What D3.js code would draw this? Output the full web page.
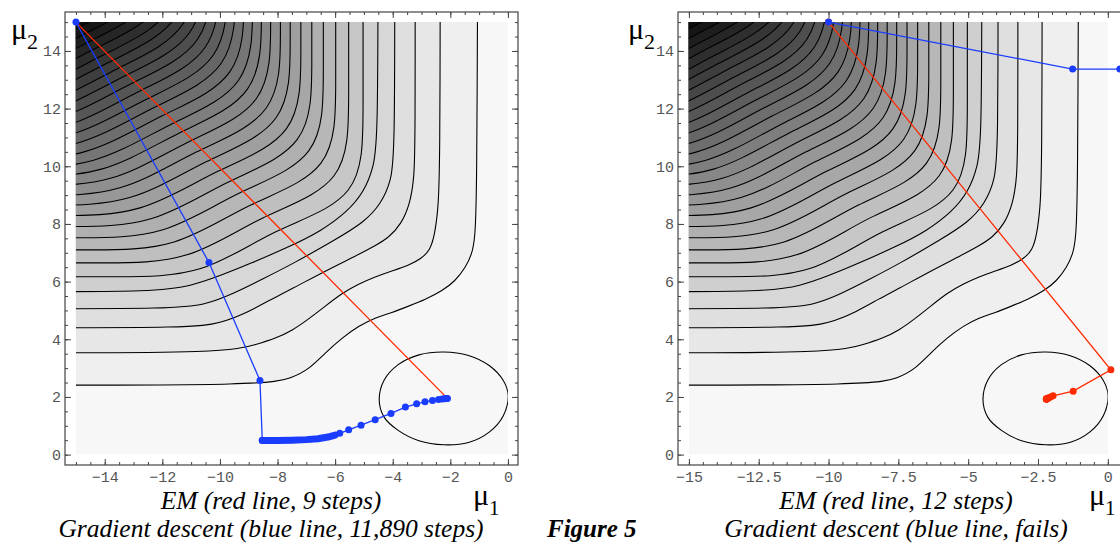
<!DOCTYPE html>
<html>
<head>
<meta charset="utf-8">
<title>Figure 5</title>
<script src="https://d3js.org/d3.v7.min.js"></script>
<style>
  body { margin: 0; background: #fff; }
  .tick text { font-family: "Liberation Mono", monospace; font-size: 15px; fill: #555; }
  .caption { font-family: "Liberation Serif", serif; font-style: italic; font-size: 25.5px; fill: #000; }
  .figlabel { font-family: "Liberation Serif", serif; font-style: italic; font-weight: bold; font-size: 25px; fill: #000; }
  .axislabel { font-family: "Liberation Serif", serif; fill: #000; }
  .frame { fill: none; stroke: #444; stroke-width: 1.2px; }
  .contour { fill: none; stroke: #000; stroke-width: 1.1px; }
</style>
</head>
<body>
<script>
// contour lines of the likelihood surface in (mu1, mu2), lowest level first
// (each runs from the left side to the top side)
let contourLines = [
  [[-17,2.41],[-8.4,2.41],[-7.5,2.66],[-6.92,2.95],[-6.34,3.53],[-5.76,4.05],[-5.18,4.46],[-4.61,4.75],[-4.03,4.92],[-3.45,5.15],[-2.87,5.38],[-2.29,5.67],[-1.83,6.02],[-1.48,6.48],[-1.25,6.94],[-1.14,7.52],[-1.08,9],[-1.05,17]],
  [[-17,3.53],[-9.8,3.53],[-8.73,3.82],[-8.03,4.05],[-7.5,4.3],[-6.92,4.7],[-6.34,5.15],[-5.76,5.6],[-5.18,5.92],[-4.61,6.17],[-4.03,6.37],[-3.45,6.56],[-3.0,6.8],[-2.7,7.1],[-2.55,7.6],[-2.42,8.5],[-2.36,10],[-2.35,17]],
  [[-17,4.40],[-11.0,4.40],[-10.0,4.55],[-9.0,4.95],[-8.2,5.4],[-7.5,5.75],[-6.34,6.37],[-5.18,6.94],[-4.6,7.25],[-4.14,7.52],[-3.7,8.0],[-3.4,8.7],[-3.25,9.6],[-3.22,11],[-3.22,17]],
  [[-17,5.06],[-11.6,5.06],[-10.5,5.2],[-9.5,5.6],[-8.5,6.1],[-7.5,6.6],[-6.0,7.45],[-5.0,8.05],[-4.4,8.7],[-4.05,9.5],[-3.93,10.5],[-3.93,17]],
  [[-17,5.65],[-12.2,5.65],[-11.0,5.85],[-10.0,6.2],[-9.0,6.6],[-7.5,7.25],[-6.5,7.75],[-5.6,8.4],[-5.0,9.1],[-4.65,10.0],[-4.52,11.0],[-4.51,17]],
  [[-17,6.17],[-13.57,6.17],[-10.57,6.17],[-8.16,7.86],[-5.03,8.83],[-5.03,11.83],[-5.03,17]],
  [[-17,6.65],[-14.05,6.65],[-11.05,6.65],[-8.62,8.32],[-5.53,9.33],[-5.53,12.33],[-5.53,17]],
  [[-17,7.10],[-14.50,7.10],[-11.50,7.10],[-9.05,8.75],[-5.98,9.78],[-5.98,12.78],[-5.98,17]],
  [[-17,7.52],[-14.92,7.52],[-11.92,7.52],[-9.45,9.15],[-6.41,10.21],[-6.41,13.21],[-6.41,17]],
  [[-17,7.91],[-15.31,7.91],[-12.31,7.91],[-9.83,9.53],[-6.81,10.61],[-6.81,13.61],[-6.81,17]],
  [[-17,8.29],[-15.69,8.29],[-12.69,8.29],[-10.19,9.89],[-7.19,10.99],[-7.19,13.99],[-7.19,17]],
  [[-17,8.65],[-16.05,8.65],[-13.05,8.65],[-10.54,10.24],[-7.56,11.36],[-7.56,14.36],[-7.56,17]],
  [[-17,8.99],[-16.39,8.99],[-13.39,8.99],[-10.88,10.58],[-7.90,11.70],[-7.90,14.70],[-7.90,17]],
  [[-17,9.32],[-16.72,9.32],[-13.72,9.32],[-11.20,10.90],[-8.24,12.04],[-8.24,15.04],[-8.24,17]],
  [[-17.04,9.64],[-14.04,9.64],[-11.51,11.21],[-8.56,12.36],[-8.56,15.36],[-8.56,17]],
  [[-17.34,9.94],[-14.34,9.94],[-11.80,11.50],[-8.87,12.67],[-8.87,15.67],[-8.87,17]],
  [[-17.64,10.24],[-14.64,10.24],[-12.10,11.80],[-9.17,12.97],[-9.17,15.97],[-9.17,17]],
  [[-17.93,10.53],[-14.93,10.53],[-12.38,12.08],[-9.47,13.27],[-9.47,16.27],[-9.47,17]],
  [[-18.21,10.81],[-15.21,10.81],[-12.66,12.36],[-9.75,13.55],[-9.75,16.55],[-9.75,17]],
  [[-18.48,11.08],[-15.48,11.08],[-12.92,12.62],[-10.03,13.83],[-10.03,16.83],[-10.03,17]],
  [[-18.75,11.35],[-15.75,11.35],[-13.19,12.89],[-10.30,14.10],[-10.30,17.10]],
  [[-19.01,11.61],[-16.01,11.61],[-13.44,13.14],[-10.56,14.36],[-10.56,17.36]],
  [[-19.26,11.86],[-16.26,11.86],[-13.69,13.39],[-10.82,14.62],[-10.82,17.62]],
  [[-19.51,12.11],[-16.51,12.11],[-13.94,13.64],[-11.07,14.87],[-11.07,17.87]],
  [[-19.75,12.35],[-16.75,12.35],[-14.17,13.87],[-11.31,15.11],[-11.31,18.11]],
  [[-19.99,12.59],[-16.99,12.59],[-14.41,14.11],[-11.55,15.35],[-11.55,18.35]],
  [[-20.22,12.82],[-17.22,12.82],[-14.64,14.34],[-11.79,15.59],[-11.79,18.59]],
  [[-20.45,13.05],[-17.45,13.05],[-14.87,14.57],[-12.02,15.82],[-12.02,18.82]],
  [[-20.68,13.28],[-17.68,13.28],[-15.09,14.79],[-12.25,16.05],[-12.25,19.05]]
];

// closed contour round the maximum
let innerContour = [[0.01,2.05],[-0.16,2.57],[-0.65,3.09],[-1.37,3.44],[-2.23,3.56],[-3.09,3.46],[-3.81,3.12],[-4.30,2.58],
                    [-4.47,1.90],[-4.30,1.30],[-3.81,0.84],[-3.09,0.48],[-2.23,0.34],[-1.37,0.42],[-0.65,0.78],[-0.16,1.35]];

// left panel: start at (-15, 15)
let emLeft = [[-15,15],[-2.23,2.08],[-2.15,1.99],[-2.12,1.96],[-2.11,1.95],[-2.1,1.95],[-2.1,1.95],[-2.1,1.95],[-2.1,1.95],[-2.1,1.95]];
let gdLeftHead = [[-15,15],[-10.38,6.66],[-8.61,2.57],[-8.53,0.50]];
let gdLeftDense = [[-8.53,0.49],[-8.0,0.49],[-7.5,0.50],[-7.0,0.52],[-6.6,0.55],[-6.25,0.61],[-6.0,0.68]];
let gdLeftTail = [[-5.84,0.74],[-5.53,0.86],[-5.10,1.02],[-4.61,1.21],[-4.06,1.43],[-3.56,1.65],[-3.17,1.76],[-2.88,1.83],[-2.62,1.88],[-2.41,1.91],[-2.28,1.93],[-2.2,1.94],[-2.14,1.95],[-2.1,1.95]];

// right panel: start at (-10, 15)
let emRight = [[-10,15],[0.11,2.94],[-1.24,2.20],[-1.96,2.04],[-2.05,2.00],[-2.12,1.97],[-2.16,1.95],[-2.18,1.94],[-2.19,1.93],[-2.2,1.93],[-2.2,1.93],[-2.2,1.93],[-2.2,1.93]];
let gdRight = [[-10,15],[-1.26,13.37],[0.43,13.37]];

// tick labels
let ticksLeftX = [-14, -12, -10, -8, -6, -4, -2, 0];
let ticksRightX = [-15, -12.5, -10, -7.5, -5, -2.5, 0];
let ticksY = [0, 2, 4, 6, 8, 10, 12, 14];

let captionsLeft = ["EM (red line, 9 steps)", "Gradient descent (blue line, 11,890 steps)"];
let captionsRight = ["EM (red line, 12 steps)", "Gradient descent (blue line, fails)"];

const RED = "#ff2a00", BLUE = "#1a3cff";

let svg = d3.select("body").append("svg")
    .attr("width", 1120)
    .attr("height", 544);

let grey = d3.scaleLinear()
    .domain([0, contourLines.length + 1])
    .range(["#ffffff", "#0e0e0e"]);

let fmt = d => String(d).replace("-", "\u2212");

function drawPanel(p) {
    let x = d3.scaleLinear().domain(p.xDomain).range(p.xRange);
    let y = d3.scaleLinear().domain([-0.36, 15.35]).range([465, 12]);
    let g = svg.append("g");

    // clip to the data region and to the frame
    g.append("clipPath").attr("id", p.id + "-data")
        .append("rect")
        .attr("x", x(-15)).attr("y", y(15))
        .attr("width", x(0) - x(-15)).attr("height", y(0) - y(15));
    g.append("clipPath").attr("id", p.id + "-frame")
        .append("rect")
        .attr("x", p.xRange[0]).attr("y", 12)
        .attr("width", p.xRange[1] - p.xRange[0]).attr("height", 453);

    let line = d3.line().x(d => x(d[0])).y(d => y(d[1])).curve(d3.curveBasis);

    let shade = g.append("g").attr("clip-path", "url(#" + p.id + "-data)");
    shade.append("rect")
        .attr("x", x(-15)).attr("y", y(15))
        .attr("width", x(0) - x(-15)).attr("height", y(0) - y(15))
        .attr("fill", grey(1));

    // each band: the region up and to the left of a contour
    shade.selectAll(".band")
        .data(contourLines)
        .enter().append("path")
        .attr("class", "band")
        .attr("fill", (d, i) => grey(i + 2))
        .attr("d", d => {
            let first = d[0], last = d[d.length - 1];
            return line(d) + "L" + x(last[0]) + "," + y(25) + "L" + x(-25) + "," + y(25) +
                "L" + x(-25) + "," + y(first[1]) + "Z";
        });

    shade.selectAll(".contour")
        .data(contourLines)
        .enter().append("path")
        .attr("class", "contour")
        .attr("d", line);

    shade.append("path")
        .datum(innerContour)
        .attr("class", "contour")
        .attr("fill", grey(0))
        .attr("d", d3.line().x(d => x(d[0])).y(d => y(d[1])).curve(d3.curveCatmullRomClosed));

    // frame with inward ticks on all four sides
    g.append("rect").attr("class", "frame")
        .attr("x", p.xRange[0]).attr("y", 12)
        .attr("width", p.xRange[1] - p.xRange[0]).attr("height", 453);

    let minorX = d3.range(-15, p.xMinorMax + 0.01, 0.5);
    let minorY = d3.range(0, 15.01, 0.5);
    let noDomain = s => s.select(".domain").remove();

    g.append("g").attr("transform", "translate(0,465)")
        .call(d3.axisBottom(x).tickValues(p.ticksX).tickSize(-6).tickPadding(6).tickFormat(fmt)).call(noDomain);
    g.append("g").attr("transform", "translate(0,465)")
        .call(d3.axisBottom(x).tickValues(minorX).tickSize(-3).tickFormat("")).call(noDomain);
    g.append("g").attr("transform", "translate(0,12)")
        .call(d3.axisTop(x).tickValues(p.ticksX).tickSize(-6).tickFormat("")).call(noDomain);
    g.append("g").attr("transform", "translate(0,12)")
        .call(d3.axisTop(x).tickValues(minorX).tickSize(-3).tickFormat("")).call(noDomain);
    g.append("g").attr("transform", "translate(" + p.xRange[0] + ",0)")
        .call(d3.axisLeft(y).tickValues(ticksY).tickSize(-6).tickPadding(4).tickFormat(fmt)).call(noDomain);
    g.append("g").attr("transform", "translate(" + p.xRange[0] + ",0)")
        .call(d3.axisLeft(y).tickValues(minorY).tickSize(-3).tickFormat("")).call(noDomain);
    g.append("g").attr("transform", "translate(" + p.xRange[1] + ",0)")
        .call(d3.axisRight(y).tickValues(ticksY).tickSize(-6).tickFormat("")).call(noDomain);
    g.append("g").attr("transform", "translate(" + p.xRange[1] + ",0)")
        .call(d3.axisRight(y).tickValues(minorY).tickSize(-3).tickFormat("")).call(noDomain);
    g.selectAll(".tick line").attr("stroke", "#444");

    // algorithm paths
    let paths = g.append("g").attr("clip-path", "url(#" + p.id + "-frame)");
    let straight = d3.line().x(d => x(d[0])).y(d => y(d[1]));
    p.tracks.forEach(t => {
        paths.append("path").datum(t.line)
            .attr("fill", "none").attr("stroke", t.color).attr("stroke-width", 1.3)
            .attr("d", straight);
        if (t.dense) {
            paths.append("path").datum(t.dense)
                .attr("fill", "none").attr("stroke", t.color).attr("stroke-width", 7)
                .attr("stroke-linecap", "round").attr("stroke-linejoin", "round")
                .attr("d", straight);
        }
        paths.selectAll(null).data(t.dots).enter().append("circle")
            .attr("cx", d => x(d[0])).attr("cy", d => y(d[1]))
            .attr("r", 3.5).attr("fill", t.color);
    });

    // axis names
    let mu2 = g.append("text").attr("class", "axislabel")
        .attr("x", p.mu2x).attr("y", 39).attr("font-size", 30).text("\u03bc");
    mu2.append("tspan").attr("dy", 10).attr("font-size", 22).text("2");
    let mu1 = g.append("text").attr("class", "axislabel")
        .attr("x", p.mu1x).attr("y", 505).attr("font-size", 30).text("\u03bc");
    mu1.append("tspan").attr("dy", 10).attr("font-size", 21).text("1");

    g.selectAll(null).data(p.captions).enter().append("text")
        .attr("class", "caption")
        .attr("x", p.captionX).attr("y", (d, i) => 508.5 + i * 28.5)
        .attr("text-anchor", "middle")
        .text(d => d);
}

drawPanel({
    id: "left",
    xDomain: [-15.38, 0.35], xRange: [65, 518], xMinorMax: 0,
    ticksX: ticksLeftX,
    tracks: [
        // EM markers sit under the gradient-descent cluster, so only its line shows
        { color: RED, line: emLeft, dots: [] },
        { color: BLUE, line: gdLeftHead.concat(gdLeftDense, gdLeftTail), dense: gdLeftDense,
          dots: gdLeftHead.concat(gdLeftTail) }
    ],
    mu2x: 11, mu1x: 473, captionX: 271, captions: captionsLeft
});

drawPanel({
    id: "right",
    xDomain: [-15.39, 0.83], xRange: [678, 1131], xMinorMax: 0.5,
    ticksX: ticksRightX,
    tracks: [
        { color: RED, line: emRight, dots: emRight },
        { color: BLUE, line: gdRight, dots: gdRight }
    ],
    mu2x: 628, mu1x: 1089, captionX: 896, captions: captionsRight
});

svg.append("text").attr("class", "figlabel")
    .attr("x", 547).attr("y", 537)
    .text("Figure 5");
</script>
</body>
</html>
